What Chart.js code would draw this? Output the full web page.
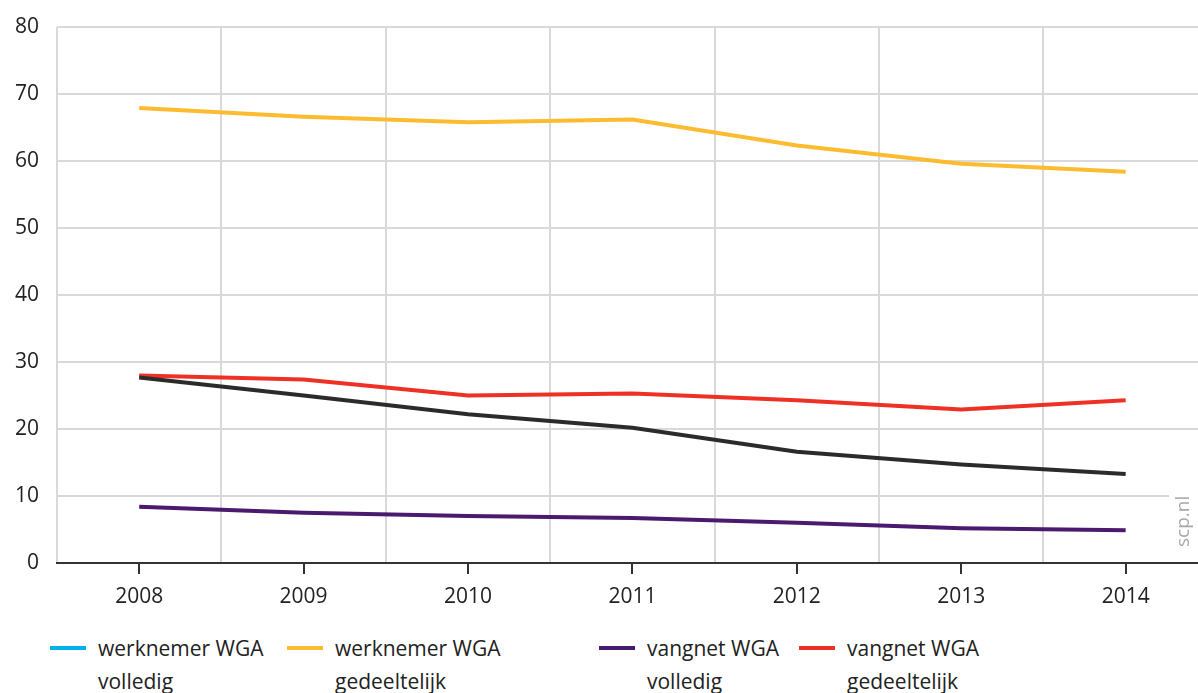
<!DOCTYPE html>
<html>
<head>
<meta charset="utf-8">
<script src="https://cdn.jsdelivr.net/npm/chart.js@4/dist/chart.umd.min.js"></script>
<style>
  html, body { margin: 0; padding: 0; background: #fff; overflow: hidden; }
  #wrap { position: relative; width: 1198px; height: 693px; font-family: "Open Sans", sans-serif; color: #222; }
  #box { position: absolute; left: 0; top: 0; width: 1198px; height: 620px; }
  .item { position: absolute; top: 632px; font-size: 21px; line-height: 33px; }
  .item .mark { position: absolute; left: 0; top: 14px; width: 36px; height: 4px; }
  .item .txt { position: absolute; left: 48px; top: 0; white-space: nowrap; }
</style>
</head>
<body>
<div id="wrap">
  <div id="box"><canvas id="grafiek"></canvas></div>
  <div id="legenda"></div>
</div>
<script>
// jaren en waarden (%)
const jaren = [2008, 2009, 2010, 2011, 2012, 2013, 2014];
const werknemerVolledig = [27.7, 25.0, 22.2, 20.2, 16.6, 14.7, 13.3];
const werknemerGedeeltelijk = [67.9, 66.6, 65.8, 66.2, 62.3, 59.6, 58.4];
const vangnetVolledig = [8.4, 7.5, 7.0, 6.7, 6.0, 5.2, 4.9];
const vangnetGedeeltelijk = [28.0, 27.4, 25.0, 25.3, 24.3, 22.9, 24.3];

const reeksen = [
    { label: ["werknemer WGA", "volledig"], data: werknemerVolledig, kleur: "#2b2b2b", legendaKleur: "#00b0ea", left: 50 },
    { label: ["werknemer WGA", "gedeeltelijk"], data: werknemerGedeeltelijk, kleur: "#fdbb30", legendaKleur: "#fdbb30", left: 287 },
    { label: ["vangnet WGA", "volledig"], data: vangnetVolledig, kleur: "#4a1a6e", legendaKleur: "#4a1a6e", left: 599 },
    { label: ["vangnet WGA", "gedeeltelijk"], data: vangnetGedeeltelijk, kleur: "#ee3124", legendaKleur: "#ee3124", left: 799 }
];

// html legenda
const legenda = document.getElementById('legenda');
reeksen.forEach(r => {
    const div = document.createElement('div');
    div.className = 'item';
    div.style.left = r.left + 'px';
    div.innerHTML = '<div class="mark" style="background:' + r.legendaKleur + '"></div>' +
        '<div class="txt">' + r.label.join('<br>') + '</div>';
    legenda.appendChild(div);
});

// watermerk scp.nl
const watermerk = {
    id: 'watermerk',
    afterDatasetsDraw(chart) {
        const c = chart.ctx;
        c.save();
        c.fillStyle = '#fff';
        c.fillRect(1169, 470, 29, 88);
        c.translate(1184, 547);
        c.rotate(-Math.PI / 2);
        c.font = '19px "Open Sans"';
        c.fillStyle = '#a8a8a8';
        c.textBaseline = 'middle';
        c.fillText('scp.nl', 0, 0);
        c.restore();
    }
};

const isJaar = v => Math.abs(v - Math.round(v)) < 1e-6;
const isHalf = v => Math.abs(v - Math.floor(v) - 0.5) < 1e-6;

const ctx = document.getElementById('grafiek').getContext('2d');
const myChart = new Chart(ctx, {
    type: 'line',
    data: {
        datasets: reeksen.map(r => ({
            label: r.label.join(' '),
            data: jaren.map((j, i) => ({ x: j, y: r.data[i] })),
            borderColor: r.kleur,
            backgroundColor: r.kleur,
            borderWidth: 4,
            pointRadius: 0,
            tension: 0,
            fill: false
        }))
    },
    plugins: [watermerk],
    options: {
        responsive: true,
        maintainAspectRatio: false,
        animation: false,
        layout: { padding: { top: 27, right: 0, left: 0, bottom: 0 } },
        plugins: {
            legend: { display: false },
            tooltip: { enabled: false }
        },
        scales: {
            x: {
                type: 'linear',
                min: 2007.5,
                max: 2014.44,
                afterFit: function (scale) {
                    scale.height = 57;
                    scale.paddingRight = 0;
                    scale.paddingLeft = 0;
                },
                afterBuildTicks: function (scale) {
                    const t = [];
                    for (let v = 2007.5; v <= 2014; v += 0.5) t.push({ value: v });
                    scale.ticks = t;
                },
                border: { color: '#333', width: 2 },
                grid: {
                    lineWidth: 2,
                    tickLength: 11,
                    tickWidth: 2,
                    color: c => (c.tick && isHalf(c.tick.value)) ? '#d9d9d9' : 'rgba(0,0,0,0)',
                    tickColor: c => (c.tick && isJaar(c.tick.value)) ? '#333' : 'rgba(0,0,0,0)'
                },
                ticks: {
                    autoSkip: false,
                    maxRotation: 0,
                    padding: 10,
                    color: '#222',
                    font: { family: 'Open Sans', size: 21 },
                    callback: v => isJaar(v) ? String(Math.round(v)) : ''
                }
            },
            y: {
                min: 0,
                max: 80,
                afterFit: function (scale) {
                    scale.width = 57;
                    scale.paddingTop = 0;
                    scale.paddingBottom = 0;
                },
                border: { display: false },
                grid: { color: '#d9d9d9', lineWidth: 2, drawTicks: false },
                ticks: {
                    stepSize: 10,
                    padding: 18,
                    color: '#222',
                    font: { family: 'Open Sans', size: 21 }
                }
            }
        }
    }
});
</script>
</body>
</html>
